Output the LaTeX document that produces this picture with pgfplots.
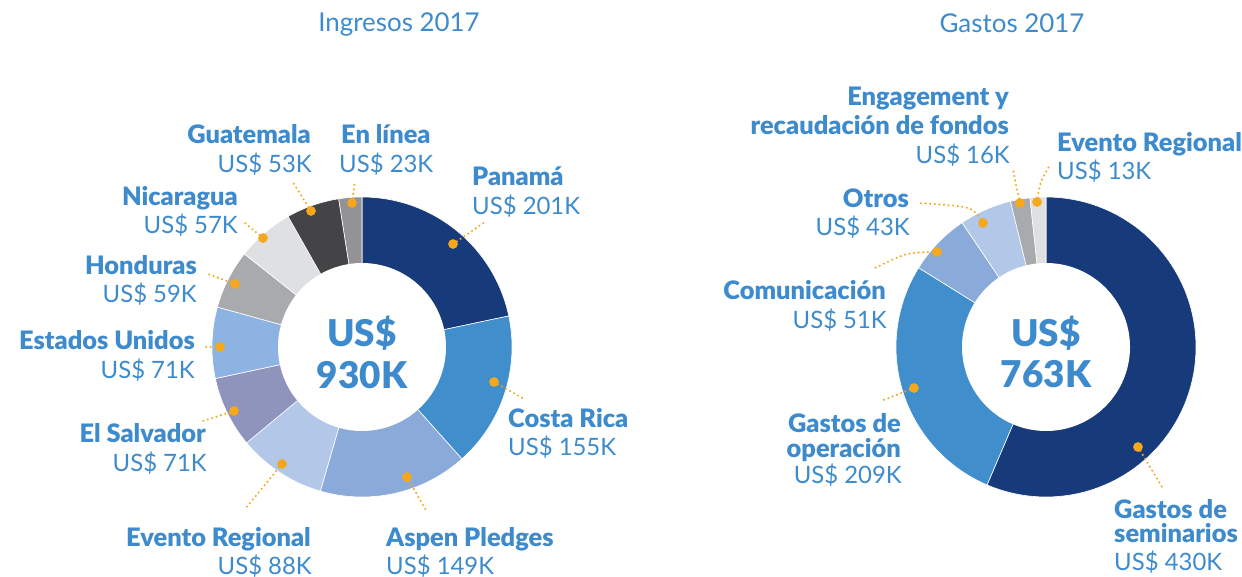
\documentclass[border=0pt]{standalone}
\usepackage{pgfplots}
\usepackage{pgfplotstable}
\pgfplotsset{compat=1.18}
\usepackage{fontspec}
\setmainfont{Lato}[BoldFont={Lato Black}]

\definecolor{tblue}{HTML}{3D8BCD}
\definecolor{lorange}{HTML}{F5A81C}
\definecolor{cPan}{HTML}{173A7A}
\definecolor{cCR}{HTML}{418ECD}
\definecolor{cAsp}{HTML}{8AABD9}
\definecolor{cEvR}{HTML}{B3C7E8}
\definecolor{cSal}{HTML}{8E94BB}
\definecolor{cUS}{HTML}{8DB3E2}
\definecolor{cHon}{HTML}{A9AAAD}
\definecolor{cNic}{HTML}{DFE0E2}
\definecolor{cGua}{HTML}{444446}
\definecolor{cLin}{HTML}{939396}

% Ingresos 2017 (miles de US$), clockwise from the top
\pgfplotstableread{
value col
201 cPan
155 cCR
149 cAsp
88  cEvR
71  cSal
71  cUS
59  cHon
57  cNic
53  cGua
23  cLin
}\ingresos

% Gastos 2017 (miles de US$), clockwise from the top
\pgfplotstableread{
value col
430 cPan
209 cCR
51  cAsp
43  cEvR
16  cHon
13  cNic
}\gastos

\newcommand\drawdonut[3]{% table, cx, cy
  \pgfplotstablegetrowsof{#1}\pgfmathtruncatemacro\nrows{\pgfplotsretval-1}%
  \gdef\tot{0}%
  \pgfplotsforeachungrouped \ii in {0,...,\nrows}{%
    \pgfplotstablegetelem{\ii}{value}\of{#1}%
    \pgfmathsetmacro\tot{\tot+\pgfplotsretval}%
  }%
  \def\cum{0}%
  \pgfplotsforeachungrouped \ii in {0,...,\nrows}{%
    \pgfplotstablegetelem{\ii}{value}\of{#1}\let\sliceval\pgfplotsretval
    \pgfplotstablegetelem{\ii}{col}\of{#1}\let\slicecol\pgfplotsretval
    \pgfmathsetmacro\aA{90-360*(\cum/\tot)}%
    \pgfmathsetmacro\cum{\cum+\sliceval}%
    \pgfmathsetmacro\aB{90-360*(\cum/\tot)}%
    \edef\temp{\noexpand\addplot[fill=\slicecol, draw=white, line width=0.6pt, domain=\aB:\aA, samples=80, variable=\noexpand\tt] ({#2+150*cos(\noexpand\tt)}, {#3-150*sin(\noexpand\tt)}) -- (axis cs:#2,#3) -- cycle;}%
    \temp
  }%
  \addplot[fill=white, draw=none, domain=0:360, samples=160, variable=\tt] ({#2+84*cos(\tt)}, {#3-84*sin(\tt)}) -- cycle;
}

\tikzset{
  lbl/.style={text=tblue, font=\fontsize{24}{28}\selectfont, inner sep=0pt},
  blbl/.style={text=tblue, font=\fontsize{25.5}{28}\selectfont\bfseries, inner sep=0pt},
  ctr/.style={text=tblue, font=\fontsize{37}{40}\selectfont\bfseries, inner sep=0pt, anchor=base},
  ttl/.style={text=tblue, font=\fontsize{26}{30}\selectfont, inner sep=0pt, anchor=base},
}
\pgfplotsset{
  lead/.style={color=lorange, line width=2.3bp, line cap=round, dash pattern=on 0bp off 4.6bp, mark=none, smooth},
}

\begin{document}
\begin{tikzpicture}
\useasboundingbox (0,0) rectangle (1242bp,577bp);
\begin{axis}[
  at={(0,0)}, anchor=south west,
  width=1242bp, height=577bp, scale only axis,
  xmin=0, xmax=1242, ymin=0, ymax=577, y dir=reverse,
  hide axis, clip=false,
]
\drawdonut{\ingresos}{362}{347}
\drawdonut{\gastos}{1046}{347}

% leader lines (left)
\addplot[lead] coordinates {(453,244) (485,222)};
\addplot[lead] coordinates {(494,382) (526,400)};
\addplot[lead] coordinates {(407,477) (427,512)};
\addplot[lead] coordinates {(282,464) (245,509)};
\addplot[lead] coordinates {(234,411) (203,421)};
\addplot[lead] coordinates {(220,347) (202,347)};
\addplot[lead] coordinates {(235,284) (208,274)};
\addplot[lead] coordinates {(263,238) (245,223)};
\addplot[lead] coordinates {(311,211) (292,181)};
\addplot[lead] coordinates {(352,203) (355,181)};
% leader lines (right)
\addplot[lead] coordinates {(1138,447) (1162,487)};
\addplot[lead] coordinates {(914,388) (881,401)};
\addplot[lead] coordinates {(937,252) (907,254) (875,268)};
\addplot[lead] coordinates {(983,223) (968,208) (918,203)};
\addplot[lead] coordinates {(1020,203) (1016,185) (1013,169)};
\addplot[lead] coordinates {(1037,202) (1041,182) (1050,165)};
% dots
\addplot[only marks, mark=*, mark size=4.6bp, color=lorange] coordinates {
(453,244) (494,382) (407,477) (282,464) (234,411) (220,347) (235,284) (263,238) (311,211) (352,203)
(1138,447) (914,388) (937,252) (983,223) (1020,203) (1037,202)};

% titles
\node[ttl] at (axis cs:399,32) {Ingresos 2017};
\node[ttl] at (axis cs:1012,33) {Gastos 2017};

% centre totals
\node[ctr] at (axis cs:362,346) {US\$};
\node[ctr] at (axis cs:362,388) {930K};
\node[ctr] at (axis cs:1046,346) {US\$};
\node[ctr] at (axis cs:1046,387) {763K};

% labels (left)
\node[blbl, anchor=base east] at (axis cs:311,143) {Guatemala};
\node[lbl, anchor=base east] at (axis cs:312,172) {US\$ 53K};
\node[blbl, anchor=base west] at (axis cs:341,143) {En línea};
\node[lbl, anchor=base west] at (axis cs:339,172) {US\$ 23K};
\node[blbl, anchor=base west] at (axis cs:472,185) {Panamá};
\node[lbl, anchor=base west] at (axis cs:472,214) {US\$ 201K};
\node[blbl, anchor=base east] at (axis cs:238,205) {Nicaragua};
\node[lbl, anchor=base east] at (axis cs:238,233) {US\$ 57K};
\node[blbl, anchor=base east] at (axis cs:197,274) {Honduras};
\node[lbl, anchor=base east] at (axis cs:197,302) {US\$ 59K};
\node[blbl, anchor=base east] at (axis cs:195,349) {Estados Unidos};
\node[lbl, anchor=base east] at (axis cs:195,378) {US\$ 71K};
\node[blbl, anchor=base east] at (axis cs:206,442) {El Salvador};
\node[lbl, anchor=base east] at (axis cs:207,471) {US\$ 71K};
\node[blbl, anchor=base east] at (axis cs:311,546) {Evento Regional};
\node[lbl, anchor=base east] at (axis cs:312,574) {US\$ 88K};
\node[blbl, anchor=base west] at (axis cs:386,546) {Aspen Pledges};
\node[lbl, anchor=base west] at (axis cs:386,574) {US\$ 149K};
\node[blbl, anchor=base west] at (axis cs:508,427) {Costa Rica};
\node[lbl, anchor=base west] at (axis cs:508,455) {US\$ 155K};

% labels (right)
\node[blbl, anchor=base east] at (axis cs:1009,106) {Engagement y};
\node[blbl, anchor=base east] at (axis cs:1009,134) {recaudación de fondos};
\node[lbl, anchor=base east] at (axis cs:1010,163) {US\$ 16K};
\node[blbl, anchor=base west] at (axis cs:1057,151) {Evento Regional};
\node[lbl, anchor=base west] at (axis cs:1057,179) {US\$ 13K};
\node[blbl, anchor=base east] at (axis cs:909,207) {Otros};
\node[lbl, anchor=base east] at (axis cs:910,235) {US\$ 43K};
\node[blbl, anchor=base east] at (axis cs:886,299) {Comunicación};
\node[lbl, anchor=base east] at (axis cs:887,328) {US\$ 51K};
\node[blbl, anchor=base east] at (axis cs:901,432) {Gastos de};
\node[blbl, anchor=base east] at (axis cs:901,457) {operación};
\node[lbl, anchor=base east] at (axis cs:902,483) {US\$ 209K};
\node[blbl, anchor=base west] at (axis cs:1114,518) {Gastos de};
\node[blbl, anchor=base west] at (axis cs:1114,542) {seminarios};
\node[lbl, anchor=base west] at (axis cs:1114,570) {US\$ 430K};
\end{axis}
\end{tikzpicture}
\end{document}
